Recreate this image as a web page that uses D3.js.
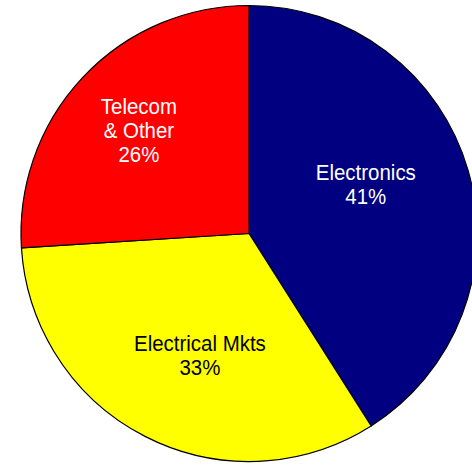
<!DOCTYPE html>
<html>
<head>
<meta charset="utf-8">
<script src="https://cdn.jsdelivr.net/npm/d3@7"></script>
<style>
  html, body { margin: 0; padding: 0; background: #fff; }
  svg { display: block; }
</style>
</head>
<body>
<svg id="chart" width="472" height="465"></svg>
<script>
// Market split by segment (percent)
const categories = ["Electronics", "Electrical Mkts", "Telecom & Other"];
const values = [41, 33, 26];
const labelLines = [["Electronics"], ["Electrical Mkts"], ["Telecom", "& Other"]];

const colors = ["#000080", "#FFFF00", "#FF0000"];
const textColors = ["#FFFFFF", "#000000", "#FFFFFF"];

// Label placement: radius and angular nudge (degrees) from each wedge's mid-angle
const labelPlacement = [
  { r: 127, da: -6.9 },
  { r: 131, da: -5.0 },
  { r: 151, da: 0.0 }
];

const W = 472, H = 465;
const cx = 249, cy = 233.5, radius = 228;

const svg = d3.select("#chart");
const g = svg.append("g").attr("transform", `translate(${cx},${cy})`);

const data = categories.map((c, i) => ({ category: c, value: values[i], i }));

const pie = d3.pie().sort(null).value(d => d.value);
const arc = d3.arc().innerRadius(0).outerRadius(radius);
const arcs = pie(data);

g.selectAll("path.slice")
  .data(arcs)
  .join("path")
  .attr("class", "slice")
  .attr("d", arc)
  .attr("fill", d => colors[d.data.i])
  .attr("stroke", "#000")
  .attr("stroke-width", 1.2)
  .attr("stroke-linejoin", "round");

const lineGap = 24;
const labels = g.selectAll("g.label")
  .data(arcs)
  .join("g")
  .attr("class", "label")
  .attr("transform", d => {
    const p = labelPlacement[d.data.i];
    const a = (d.startAngle + d.endAngle) / 2 + p.da * Math.PI / 180;
    const x = p.r * Math.sin(a);
    const y = -p.r * Math.cos(a);
    return `translate(${x},${y})`;
  });

labels.each(function(d) {
  const lines = labelLines[d.data.i].slice();
  lines.push(d3.format(".0f")(d.data.value) + "%");
  const n = lines.length;
  d3.select(this).selectAll("text")
    .data(lines)
    .join("text")
    .attr("transform", (t, k) => `translate(0,${(k - (n - 1) / 2) * lineGap + 8}) scale(0.93,1)`)
    .attr("text-anchor", "middle")
    .attr("font-family", "Arial, 'Liberation Sans', sans-serif")
    .attr("font-size", 22)
    .attr("fill", textColors[d.data.i])
    .text(t => t);
});
</script>
</body>
</html>
